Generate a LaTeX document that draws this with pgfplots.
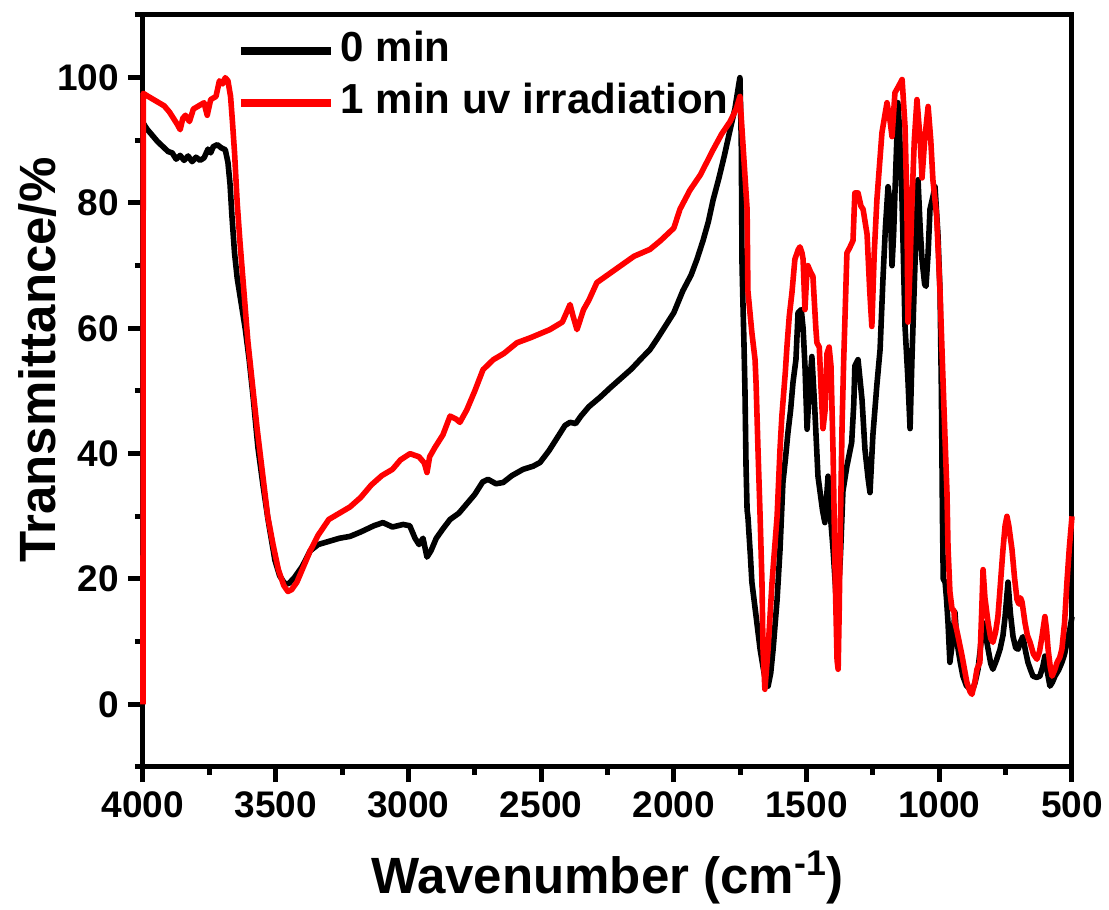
\documentclass[border=0pt]{standalone}
\usepackage{fontspec}
\setmainfont{Liberation Sans}
\usepackage{pgfplots}
\pgfplotsset{compat=1.18}
\begin{document}
\begin{tikzpicture}
\begin{axis}[
  scale only axis, width=464.5pt, height=376pt,
  xmin=500, xmax=4000, x dir=reverse,
  ymin=-10, ymax=110,
  xtick={500,1000,...,4000}, minor xtick={750,1250,...,3750},
  ytick={0,20,...,100}, minor ytick={-10,10,...,110},
  tick pos=left, tick align=outside,
  major tick length=7.5pt, minor tick length=4pt,
  every tick/.append style={line width=2.5pt, black},
  every major tick/.append style={line width=2.5pt, black},
  every minor tick/.append style={line width=2.5pt, black},
  axis line style={line width=2.5pt},
  every axis/.append style={line width=2.5pt},
  /pgf/number format/1000 sep={},
  /pgf/number format/assume math mode=true,
  ticklabel style={font=\bfseries\fontsize{18.5}{20}\selectfont},
  xlabel={Wavenumber (cm\textsuperscript{-1})},
  ylabel={Transmittance/\%},
  label style={font=\bfseries\fontsize{25.5}{28}\selectfont},
  xlabel style={at={(axis description cs:0.5,-0.168)}, anchor=base},
  ylabel style={at={(axis description cs:-0.113,0.541)}, anchor=center},
  clip=false,
  legend style={at={(rel axis cs:0.092,0.995)}, anchor=north west, draw=none, fill=none,
    font=\bfseries\fontsize{21}{21}\selectfont, row sep=0pt,
    nodes={text height=15pt, text depth=5pt, inner sep=3pt}},
  legend cell align=left,
  legend image code/.code={\draw[#1, line width=4pt] (0pt,0pt) -- (45pt,0pt);},
]
\addplot[black, line width=2.8pt, line join=round] table {
4000 92.8
3985 91.8
3965 90.8
3945 89.8
3925 89.0
3905 88.2
3890 88.0
3875 87.0
3860 87.6
3845 86.8
3830 87.5
3815 86.6
3800 87.3
3785 86.8
3770 87.2
3755 88.6
3745 88.0
3735 89.0
3720 89.3
3705 88.8
3690 88.5
3680 86.5
3672 83
3665 78
3655 72
3645 68
3630 64
3615 60
3600 55
3585 49
3567 41
3548 35
3529 29.5
3515 26
3503 23
3485 20.5
3465 19.2
3450 19.3
3430 20.2
3400 22
3370 24.5
3340 25.5
3300 26
3260 26.5
3220 26.8
3180 27.5
3130 28.5
3096 29
3060 28.3
3020 28.7
2995 28.5
2975 26.5
2960 25.5
2945 26.5
2930 23.5
2915 24.5
2895 26.5
2870 28
2843 29.5
2810 30.5
2780 32
2750 33.5
2720 35.5
2700 35.9
2670 35.2
2643 35.4
2610 36.5
2568 37.5
2530 38
2504 38.6
2470 40.5
2440 42.5
2410 44.5
2391 45
2370 44.8
2350 46
2320 47.5
2278 49
2240 50.5
2200 52
2160 53.5
2120 55.3
2090 56.6
2060 58.5
2030 60.5
2000 62.5
1966 66
1935 68.5
1913 71
1890 74
1870 77
1852 80.5
1830 84
1810 87.5
1788 91.7
1770 95
1755 99
1751 100
1746 90
1743 70
1740 64.6
1736 58
1732 50
1728 38
1724 31
1721 30
1712 24
1706 19.5
1690 14
1675 8.8
1660 5
1645 2.9
1635 5
1626 8.8
1611 16.7
1600 24.7
1589 35.4
1580 39
1570 43.4
1560 47
1551 51.4
1540 55
1532 62.5
1520 63
1513 60
1506 54
1498 43.9
1490 50
1480 55.5
1470 48
1461 40
1457 36.4
1440 31
1431 29
1419 36.4
1410 30
1400 24.7
1390 18
1382 16
1372 24
1363 34
1348 38
1330 41.8
1322 48
1318 54
1306 55
1291 48.6
1280 40.7
1268 36
1261 33.8
1250 43
1235 51
1223 56.6
1212 68
1203 76
1193 82.6
1185 80
1178 70
1172 75
1167 81.6
1160 90
1156 96
1150 92
1140 80
1129 60.3
1118 51.8
1110 44
1103 55
1091 71
1080 83.7
1072 76
1065 71
1055 67
1050 66.7
1042 72
1035 79
1024 81
1016 82.6
1005 75
997 65.7
992 50
988 30
985 20
978 19.5
973 17
967 13
960 6.7
950 10
941 14.7
935 11
929 8.8
920 6.5
911 4.5
898 3
884 2.4
872 2.6
865 3.5
854 5.6
845 9
835 13
825 11
816 8.8
806 6.5
798 5.6
785 7
771 8.8
760 11
752 14
745 17.5
741 19.5
732 14.5
722 10.8
712 9
703 8.8
694 10
685 10.8
675 8.5
666 6.7
656 5.5
647 4.5
633 4.3
621 4.5
610 6
602 7.7
592 5
583 2.9
574 3.5
564 4.5
550 5.5
538 6.7
528 8
519 9.9
508 12
500 14
};
\addlegendentry{0 min}
\addplot[red, line width=2.8pt, line join=round] table {
4000 0
3999 97.5
3980 97
3960 96.5
3940 96
3920 95.5
3900 94.5
3885 93.5
3870 92.5
3860 91.7
3850 93.5
3840 94
3825 93
3810 95
3790 95.5
3770 96
3758 94
3745 96.5
3725 97
3712 99.5
3700 99
3690 100
3680 99.5
3670 97
3663 93
3655 88
3645 80
3635 74
3620 66
3605 58
3590 52
3570 44
3550 37
3530 30
3510 25.5
3490 21.5
3470 19
3454 18
3440 18.3
3420 19.5
3400 21.5
3370 24.5
3340 27
3300 29.5
3260 30.5
3220 31.5
3180 33
3140 35
3100 36.5
3060 37.5
3030 39
2994 40
2960 39.5
2940 38.5
2930 37
2920 39.5
2900 41
2870 43
2843 46
2820 45.5
2806 45
2780 47
2750 50
2719 53.4
2680 55
2640 56
2591 57.7
2540 58.5
2467 59.8
2420 61
2391 63.8
2380 62
2365 59.8
2340 63
2320 64.5
2290 67.3
2250 68.5
2200 70
2150 71.5
2090 72.6
2050 74
2000 76
1977 79
1940 82
1900 84.5
1852 88.5
1820 91
1788 93
1765 95
1751 97
1740 89.6
1724 79
1721 66
1706 59.3
1694 55
1690 51
1683 40.7
1675 30
1668 19.5
1664 8.8
1657 2.4
1645 8.8
1630 19.5
1611 30
1600 40.7
1593 46
1580 53
1574 57
1565 62
1555 65.7
1544 71
1532 72.5
1525 73
1517 72
1513 71
1506 63
1500 68
1495 70
1485 69
1476 68.3
1465 60
1461 57.7
1452 57
1445 50
1438 44
1430 47
1423 56
1415 57
1408 54
1400 40
1392 20
1385 7
1381 5.6
1377 15
1372 30
1366 45
1360 55
1355 62
1348 72
1336 73
1325 74
1318 81.6
1306 81.6
1295 79.5
1287 79
1272 75
1262 66
1254 60.3
1245 72
1235 80.5
1216 91.2
1205 94
1197 96
1185 93
1178 90.6
1167 97.6
1155 98.5
1140 99.7
1129 92.2
1122 80
1118 61
1110 70
1103 80
1094 90
1084 96.5
1072 90
1065 84
1055 90
1042 95.4
1032 90
1024 83.7
1010 78
997 65.7
986 51.8
978 42
971 33.8
967 25
960 18
952 15.2
945 15
941 13
935 12
929 10.8
914 7.7
896 3.5
884 2
877 1.6
866 3.5
858 5.6
847 6.7
840 15
835 21.5
828 17
816 13
806 10.5
798 9.9
788 11.5
779 14
770 19
760 24.7
752 28.5
745 30
738 28.5
726 24.7
716 20
707 16.7
700 16
694 17
688 16.3
677 13
668 11
658 9.9
645 8
632 7.2
622 8.5
613 10.8
602 14
596 12
590 8.8
582 6
575 4.5
565 5.5
556 6.7
546 7.5
538 8.8
528 13
519 19.5
510 25
500 30
};
\addlegendentry{1 min uv irradiation}
\end{axis}
\pgfresetboundingbox
\path[use as bounding box] ([shift={(-71.5pt,-71.5pt)}]current axis.south west) rectangle ([shift={(483pt,383.5pt)}]current axis.south west);
\end{tikzpicture}
\end{document}
